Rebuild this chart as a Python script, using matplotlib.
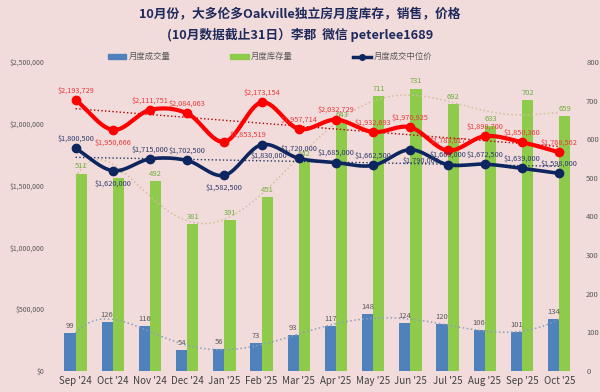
import numpy as np
import matplotlib.pyplot as plt
from matplotlib.patches import Patch
from matplotlib.lines import Line2D

plt.rcParams['font.family'] = ['Noto Sans CJK SC', 'DejaVu Sans']

# Données
months = ["Sep '24", "Oct '24", "Nov '24", "Dec '24", "Jan '25", "Feb '25", "Mar '25",
          "Apr '25", "May '25", "Jun '25", "Jul '25", "Aug '25", "Sep '25", "Oct '25"]
sales = [99, 126, 116, 54, 56, 73, 93, 117, 148, 124, 120, 106, 101, 134]
inventory = [511, 500, 492, 381, 391, 451, 542, 643, 711, 731, 692, 633, 702, 659]
avg_price = [2193729, 1950666, 2111751, 2084063, 1853519, 2173154, 1957714,
             2032729, 1932693, 1970925, 1783617, 1898700, 1850360, 1768562]
median_price = [1800500, 1620000, 1715000, 1702500, 1582500, 1830000, 1720000,
                1685000, 1662500, 1790000, 1669000, 1672500, 1639000, 1598000]

bg = '#F2DCDB'
blue = '#4F81BD'
green = '#8FCB4A'
red = '#FF0000'
navy = '#0D2660'


def smooth(x, y, n=20):
    # courbe lissée type Catmull-Rom (comme "ligne lissée" d'Excel)
    x = np.asarray(x, float)
    y = np.asarray(y, float)
    px = np.concatenate([[2 * x[0] - x[1]], x, [2 * x[-1] - x[-2]]])
    py = np.concatenate([[2 * y[0] - y[1]], y, [2 * y[-1] - y[-2]]])
    xs, ys = [], []
    t = np.linspace(0, 1, n)
    for i in range(1, len(px) - 2):
        for p, out in ((px, xs), (py, ys)):
            p0, p1, p2, p3 = p[i - 1], p[i], p[i + 1], p[i + 2]
            out.extend(0.5 * (2 * p1 + (-p0 + p2) * t + (2 * p0 - 5 * p1 + 4 * p2 - p3) * t**2
                              + (-p0 + 3 * p1 - 3 * p2 + p3) * t**3))
    return np.array(xs), np.array(ys)


x = np.arange(len(months))
xd = np.linspace(0, len(months) - 1, 300)

fig = plt.figure(figsize=(6, 3.92), dpi=100, facecolor=bg)
ax = fig.add_axes([0.095, 0.054, 0.868, 0.788])  # barres (axe droit)
ax.set_facecolor(bg)
ax2 = ax.twinx()  # prix (axe gauche)

# barres
w = 0.3
ax.bar(x - w / 2, sales, w, color=blue, zorder=2)
ax.bar(x + w / 2, inventory, w, color=green, zorder=2)
for i in range(len(x)):
    ax.text(x[i] - w / 2, sales[i] + 8, str(sales[i]), ha='center', va='bottom',
            fontsize=5.5, color='#595959')
    ax.text(x[i] + w / 2, inventory[i] + 8, str(inventory[i]), ha='center', va='bottom',
            fontsize=5.5, color='#6AAF3C')

# tendances polynomiales
ax.plot(xd, np.polyval(np.polyfit(x, sales, 6), xd), ':', color='#8A9FB8', lw=1.1, zorder=3)
ax.plot(xd, np.polyval(np.polyfit(x, inventory, 6), xd), ':', color='#D2BE9C', lw=1.1, zorder=3)

ax.set_ylim(0, 800)
ax.set_yticks(range(0, 801, 100))
ax.yaxis.tick_right()
ax.tick_params(axis='y', length=0, labelsize=5.5, labelcolor='#595959', pad=6)
ax.set_xticks(x)
ax.set_xticklabels(months)
ax.tick_params(axis='x', length=0, labelsize=7, labelcolor='#404040', pad=4)
ax.set_xlim(-0.5, len(months) - 0.5)

# lignes de prix
sx, sy = smooth(x, avg_price)
ax2.plot(sx, sy, color=red, lw=3, zorder=5, solid_capstyle='round')
ax2.plot(x, avg_price, 'o', color=red, ms=6, zorder=6)
sx, sy = smooth(x, median_price)
ax2.plot(sx, sy, color=navy, lw=2.6, zorder=5, solid_capstyle='round')
ax2.plot(x, median_price, 'o', color=navy, ms=6, zorder=6)

# tendances linéaires
ax2.plot(x, np.polyval(np.polyfit(x, avg_price, 1), x), ':', color='#B00000', lw=1, zorder=4)
ax2.plot(x, np.polyval(np.polyfit(x, median_price, 1), x), ':', color='#1F3864', lw=1, zorder=4)

red_off = {1: (0, -12), 4: (17, 2)}
for i, v in enumerate(avg_price):
    dx, dy = red_off.get(i, (0, 4))
    ax2.annotate(f'${v:,}', (x[i], v), xytext=(dx, dy), textcoords='offset points',
                 ha='center', va='bottom', fontsize=5.3, color='#E8383A', zorder=7)
navy_off = {1: (0, -12), 4: (0, -12), 5: (5, -11), 9: (8, -11)}
for i, v in enumerate(median_price):
    dx, dy = navy_off.get(i, (0, 4))
    ax2.annotate(f'${v:,}', (x[i], v), xytext=(dx, dy), textcoords='offset points',
                 ha='center', va='bottom', fontsize=5.3, color='#2E3B6B', zorder=7)

ax2.set_ylim(0, 2500000)
ax2.set_yticks(range(0, 2500001, 500000))
ax2.set_yticklabels([f'${v:,}' for v in range(0, 2500001, 500000)])
ax2.yaxis.tick_left()
ax2.tick_params(axis='y', length=0, labelsize=5, labelcolor='#595959', pad=9)

for a in (ax, ax2):
    for s in a.spines.values():
        s.set_visible(False)

# titre
fig.text(0.5, 0.962, '10月份，大多伦多Oakville独立房月度库存，销售，价格',
         ha='center', va='center', fontsize=9.2, fontweight='bold', color='#1F2A5C')
fig.text(0.5, 0.91, '(10月数据截止31日）李郡  微信 peterlee1689',
         ha='center', va='center', fontsize=9.2, fontweight='bold', color='#1F2A5C')

handles = [Patch(color=blue), Patch(color=green),
           Line2D([], [], color=navy, lw=2.5, marker='o', ms=4)]
fig.legend(handles, ['月度成交量', '月度库存量', '月度成交中位价'], loc='center',
           bbox_to_anchor=(0.45, 0.855), ncol=3, frameon=False, fontsize=6,
           labelcolor='#595959', columnspacing=7.2, handlelength=2.2, handleheight=0.5,
           handletextpad=0.3)

plt.savefig('out.png', dpi=100, facecolor=bg)
